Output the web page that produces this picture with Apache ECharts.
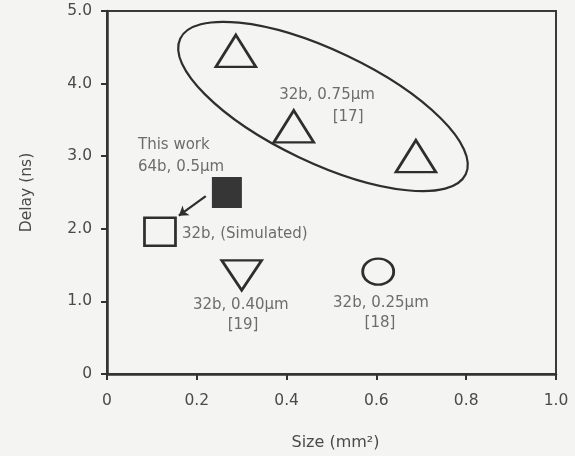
<!DOCTYPE html>
<html>
<head>
<meta charset="utf-8">
<script src="https://cdn.jsdelivr.net/npm/echarts@6/dist/echarts.min.js"></script>
<style>
html,body{margin:0;padding:0;background:#f4f4f2;}
#c{width:575px;height:456px;}
</style>
</head>
<body>
<div id="c"></div>
<script>
// ---- data (Size mm², Delay ns) ----
const ref17 = [[0.287, 4.45], [0.416, 3.41], [0.688, 3.0]];
const ref19 = [[0.30, 1.36]];
const ref18 = [[0.604, 1.41]];
const thisWork = [[0.267, 2.5]];
const simulated = [[0.118, 1.96]];
const arrowPath = [[0.220, 2.45], [0.160, 2.18]];

const xTicks = ['0', '0.2', '0.4', '0.6', '0.8', '1.0'];
const yTicks = ['0', '1.0', '2.0', '3.0', '4.0', '5.0'];

const noteTexts = ['32b, 0.75µm', '[17]', 'This work', '64b, 0.5µm', '32b, (Simulated)', '32b, 0.40µm', '[19]', '32b, 0.25µm', '[18]'];
const noteAnchors = [[0.490, 3.836], [0.537, 3.534], [0.069, 3.15], [0.069, 2.85], [0.167, 1.93], [0.298, 0.945], [0.303, 0.67], [0.610, 0.97], [0.608, 0.70]];
const noteAlign = ['center', 'center', 'left', 'left', 'left', 'center', 'center', 'center', 'center'];

// ellipse grouping the [17] points: centre (data), semi-axes in x-units, tilt in degrees
const ellipseCenter = [0.481, 3.685];
const ellipseAxes = [0.352, 0.125];
const ellipseTilt = 25.4;

const ink = '#2e2e2e';
const textCol = '#4a4a4a';
const FONT = 'DejaVu Sans';

const chart = echarts.init(document.getElementById('c'), null, {renderer: 'canvas'});

const markStyle = {color: 'transparent', borderColor: ink, borderWidth: 2.6, opacity: 1};

chart.setOption({
  backgroundColor: '#f4f4f2',
  animation: false,
  grid: {left: 107, right: 19, top: 11, bottom: 80, show: true, borderColor: '#3a3a3a', borderWidth: 2},
  xAxis: {
    type: 'value', min: 0, max: 1, interval: 0.2,
    name: 'Size (mm²)', nameLocation: 'middle', nameGap: 61,
    nameTextStyle: {fontFamily: FONT, fontSize: 16, color: textCol, padding: [0, 0, 0, 8]},
    axisLine: {show: true, onZero: false, lineStyle: {color: '#333', width: 2.5}},
    axisTick: {show: true, inside: false, length: 6, lineStyle: {color: '#333', width: 2}},
    axisLabel: {fontFamily: FONT, fontSize: 15.5, color: textCol, margin: 19,
      formatter: (v) => xTicks[Math.round(v / 0.2)]},
    splitLine: {show: false}
  },
  yAxis: {
    type: 'value', min: 0, max: 5, interval: 1,
    name: 'Delay (ns)', nameLocation: 'middle', nameGap: 72,
    nameTextStyle: {fontFamily: FONT, fontSize: 15.5, color: textCol},
    axisLine: {show: true, onZero: false, lineStyle: {color: '#333', width: 2.5}},
    axisTick: {show: true, inside: false, length: 6, lineStyle: {color: '#333', width: 2}},
    axisLabel: {fontFamily: FONT, fontSize: 15.5, color: textCol, margin: 15,
      formatter: (v) => yTicks[Math.round(v)]},
    splitLine: {show: false}
  },
  series: [
    {
      type: 'custom', name: 'group17', silent: true, z: 1,
      data: [ellipseCenter],
      renderItem: function (params, api) {
        const c = api.coord([api.value(0), api.value(1)]);
        const ux = api.size([1, 0])[0];
        return {
          type: 'ellipse',
          x: c[0], y: c[1],
          rotation: -ellipseTilt * Math.PI / 180,
          shape: {cx: 0, cy: 0, rx: ellipseAxes[0] * ux, ry: ellipseAxes[1] * ux},
          style: {fill: 'none', stroke: ink, lineWidth: 2.2}
        };
      }
    },
    {type: 'scatter', name: '[17]', data: ref17, symbol: 'triangle', symbolSize: [40, 32], itemStyle: markStyle, z: 3},
    {type: 'scatter', name: '[19]', data: ref19, symbol: 'triangle', symbolRotate: 180, symbolSize: [40, 30], itemStyle: markStyle, z: 3},
    {type: 'scatter', name: '[18]', data: ref18, symbol: 'circle', symbolSize: [31, 26], itemStyle: markStyle, z: 3},
    {type: 'scatter', name: 'This work', data: thisWork, symbol: 'rect', symbolSize: [30, 31], itemStyle: {color: '#363636', opacity: 1}, z: 3},
    {type: 'scatter', name: 'Simulated', data: simulated, symbol: 'rect', symbolSize: [31, 28], itemStyle: markStyle, z: 3},
    {
      type: 'lines', coordinateSystem: 'cartesian2d', silent: true, z: 3,
      symbol: ['none', 'arrow'], symbolSize: 9,
      lineStyle: {color: ink, width: 2.2, opacity: 1},
      data: [{coords: arrowPath}]
    },
    {
      type: 'scatter', name: 'notes', silent: true, symbolSize: 0, z: 4,
      data: noteAnchors.map((p, i) => ({
        value: p,
        label: {show: true, position: 'inside', formatter: noteTexts[i], align: noteAlign[i], verticalAlign: 'middle',
          fontFamily: FONT, fontSize: 15, color: textCol}
      }))
    }
  ]
});
</script>
</body>
</html>
